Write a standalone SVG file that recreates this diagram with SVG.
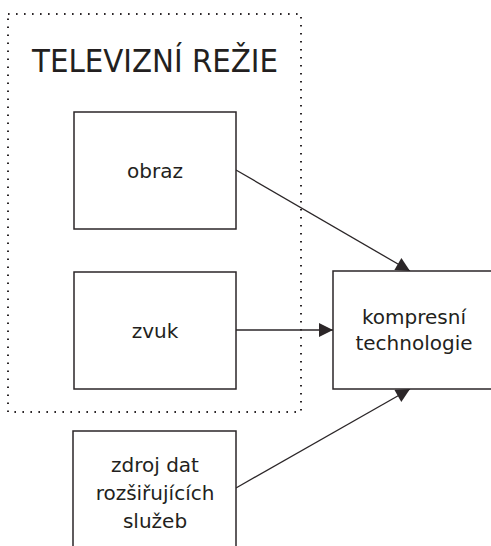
<svg xmlns="http://www.w3.org/2000/svg" width="491" height="546" viewBox="0 0 491 546">
<style>
.box{fill:#fff;stroke:#2b2628;stroke-width:1.5}
.t{font-family:"DejaVu Sans",sans-serif;font-size:20px;fill:#231f20;text-anchor:middle}
.c{stroke:#2b2628;stroke-width:1.3;fill:none}
</style>
<defs>
<marker id="ah" viewBox="0 0 10 10" refX="10" refY="5" markerWidth="17" markerHeight="14" markerUnits="userSpaceOnUse" orient="auto"><path d="M0,0 L10,5 L0,10 z" fill="#2b2628"/></marker>
</defs>
<rect x="8" y="14" width="293" height="398" fill="none" stroke="#2b2628" stroke-width="2" stroke-dasharray="1.6 6.4"/>
<text x="155" y="72" font-family="DejaVu Sans Condensed,DejaVu Sans,sans-serif" font-size="32" fill="#231f20" text-anchor="middle" textLength="246" lengthAdjust="spacingAndGlyphs">TELEVIZNÍ REŽIE</text>
<g id="connectors">
<line class="c" x1="236" y1="170" x2="410" y2="271" marker-end="url(#ah)"/>
<line class="c" x1="236" y1="330" x2="333" y2="330" stroke-width="2" marker-end="url(#ah)"/>
<line class="c" x1="236" y1="488" x2="410" y2="389" marker-end="url(#ah)"/>
</g>
<g id="obraz"><rect class="box" x="74" y="112" width="162" height="117"/><text class="t" x="155" y="178">obraz</text></g>
<g id="zvuk"><rect class="box" x="74" y="272" width="162" height="117"/><text class="t" x="155" y="338">zvuk</text></g>
<g id="zdroj"><rect class="box" x="73" y="431" width="163" height="120"/><text class="t" x="155" y="472">zdroj dat</text><text class="t" x="155" y="500">rozšiřujících</text><text class="t" x="155" y="528">služeb</text></g>
<g id="kompresni"><rect class="box" x="333" y="271" width="165" height="118"/><text class="t" x="414" y="324">kompresní</text><text class="t" x="414" y="350">technologie</text></g>
</svg>
